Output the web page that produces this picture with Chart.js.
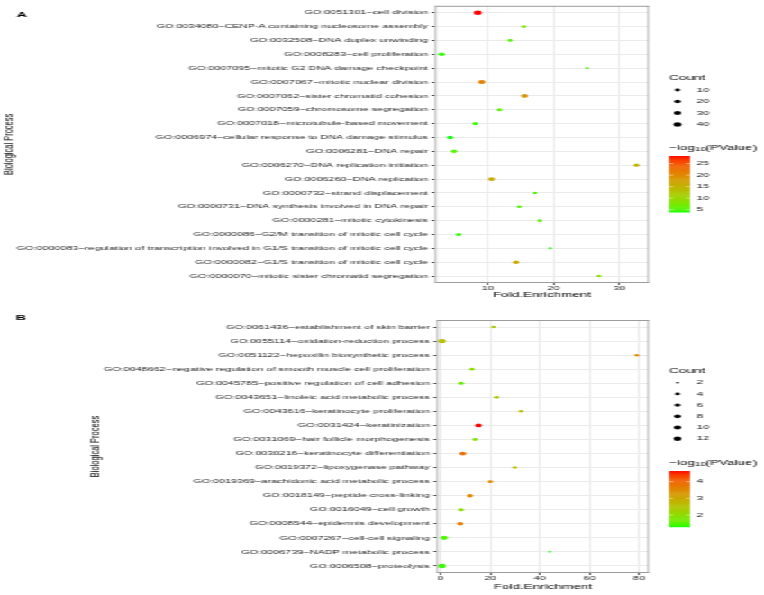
<!DOCTYPE html>
<html>
<head>
<meta charset="utf-8">
<script src="https://cdn.jsdelivr.net/npm/chart.js@4"></script>
<style>
  html, body { margin: 0; padding: 0; background: #fff; overflow: hidden; }
  /* the reference is stretched sideways, so draw narrow and stretch */
  .wrap { width: 424px; transform: scaleX(1.80189); transform-origin: 0 0; }
  canvas { display: block; }
</style>
</head>
<body>
<div class="wrap">
  <canvas id="chartA" width="424" height="300"></canvas>
  <canvas id="chartB" width="424" height="295"></canvas>
</div>
<script>
// ---- panel A data ----
const termsA = [
  "GO:0051301~cell division",
  "GO:0034080~CENP-A containing nucleosome assembly",
  "GO:0032508~DNA duplex unwinding",
  "GO:0008283~cell proliferation",
  "GO:0007095~mitotic G2 DNA damage checkpoint",
  "GO:0007067~mitotic nuclear division",
  "GO:0007062~sister chromatid cohesion",
  "GO:0007059~chromosome segregation",
  "GO:0007018~microtubule-based movement",
  "GO:0006974~cellular response to DNA damage stimulus",
  "GO:0006281~DNA repair",
  "GO:0006270~DNA replication initiation",
  "GO:0006260~DNA replication",
  "GO:0000732~strand displacement",
  "GO:0000731~DNA synthesis involved in DNA repair",
  "GO:0000281~mitotic cytokinesis",
  "GO:0000086~G2/M transition of mitotic cell cycle",
  "GO:0000083~regulation of transcription involved in G1/S transition of mitotic cell cycle",
  "GO:0000082~G1/S transition of mitotic cell cycle",
  "GO:0000070~mitotic sister chromatid segregation"
];
const foldA  = [8.5, 15.5, 13.4, 3.0, 25.1, 9.1, 15.6, 11.8, 8.1, 4.3, 4.9, 32.6, 10.6, 17.2, 14.8, 17.9, 5.6, 19.5, 14.3, 26.9];
const countA = [42, 8, 8, 18, 5, 30, 22, 11, 11, 15, 16, 12, 22, 6, 7, 7, 11, 5, 18, 7];
const logpA  = [28.3, 7.5, 5.5, 4.5, 4.8, 21, 19.5, 6, 4.8, 4.0, 5.5, 15, 16, 5.5, 5.5, 6, 4.5, 4.2, 16.5, 9];
const xTicksA = [10, 20, 30];
const countTicksA = [10, 20, 30, 40];
const colorTicksA = [5, 10, 15, 20, 25];

// ---- panel B data ----
const termsB = [
  "GO:0061436~establishment of skin barrier",
  "GO:0055114~oxidation-reduction process",
  "GO:0051122~hepoxilin biosynthetic process",
  "GO:0048662~negative regulation of smooth muscle cell proliferation",
  "GO:0045785~positive regulation of cell adhesion",
  "GO:0043651~linoleic acid metabolic process",
  "GO:0043616~keratinocyte proliferation",
  "GO:0031424~keratinization",
  "GO:0031069~hair follicle morphogenesis",
  "GO:0030216~keratinocyte differentiation",
  "GO:0019372~lipoxygenase pathway",
  "GO:0019369~arachidonic acid metabolic process",
  "GO:0018149~peptide cross-linking",
  "GO:0016049~cell growth",
  "GO:0008544~epidermis development",
  "GO:0007267~cell-cell signaling",
  "GO:0006739~NADP metabolic process",
  "GO:0006508~proteolysis"
];
const foldB  = [21.3, 0.6, 79.1, 12.7, 8.3, 22.6, 32.4, 15.3, 13.9, 9.0, 29.9, 20.1, 11.9, 8.3, 7.9, 1.5, 44.0, 0.6];
const countB = [3, 12, 3, 4, 5, 4, 3, 8, 4, 8, 3, 4, 6, 5, 7, 10, 2, 12];
const logpB  = [2.4, 2.6, 3.5, 2.0, 1.6, 2.4, 2.6, 4.64, 1.9, 3.9, 2.6, 3.5, 3.6, 2.0, 3.7, 1.5, 1.3, 1.4];
const xTicksB = [0, 20, 40, 60, 80];
const countTicksB = [2, 4, 6, 8, 10, 12];
const colorTicksB = [2, 3, 4];

const FONT = "'Liberation Sans', Arial, sans-serif";
Chart.defaults.font.family = FONT;

// ggplot-like green -> red gradient, interpolated in Lab
function srgbToLin(c) { c /= 255; return c <= 0.04045 ? c / 12.92 : Math.pow((c + 0.055) / 1.055, 2.4); }
function linToSrgb(c) {
  const v = c <= 0.0031308 ? 12.92 * c : 1.055 * Math.pow(c, 1 / 2.4) - 0.055;
  return Math.round(Math.max(0, Math.min(1, v)) * 255);
}
function rgbToLab(rgb) {
  const [r, g, b] = rgb.map(srgbToLin);
  const X = (0.4124 * r + 0.3576 * g + 0.1805 * b) / 0.95047;
  const Y = 0.2126 * r + 0.7152 * g + 0.0722 * b;
  const Z = (0.0193 * r + 0.1192 * g + 0.9505 * b) / 1.08883;
  const f = t => t > 0.008856 ? Math.cbrt(t) : 7.787 * t + 16 / 116;
  const fx = f(X), fy = f(Y), fz = f(Z);
  return [116 * fy - 16, 500 * (fx - fy), 200 * (fy - fz)];
}
function labToRgb([L, a, b]) {
  const fy = (L + 16) / 116, fx = fy + a / 500, fz = fy - b / 200;
  const inv = t => t * t * t > 0.008856 ? t * t * t : (t - 16 / 116) / 7.787;
  const X = inv(fx) * 0.95047, Y = inv(fy), Z = inv(fz) * 1.08883;
  const r = 3.2406 * X - 1.5372 * Y - 0.4986 * Z;
  const g = -0.9689 * X + 1.8758 * Y + 0.0415 * Z;
  const bb = 0.0557 * X - 0.2040 * Y + 1.0570 * Z;
  return [linToSrgb(r), linToSrgb(g), linToSrgb(bb)];
}
const LOW = rgbToLab([0, 255, 0]);
const HIGH = rgbToLab([255, 0, 0]);
function gradient(t) {
  t = Math.max(0, Math.min(1, t));
  const c = labToRgb(LOW.map((v, i) => v + (HIGH[i] - v) * t));
  return `rgb(${c[0]},${c[1]},${c[2]})`;
}

function sizeScale(counts, rMin, rMax) {
  const lo = Math.min(...counts), hi = Math.max(...counts);
  return c => rMin + (rMax - rMin) * Math.sqrt(Math.max(0, (c - lo) / (hi - lo)));
}

// border box, panel tag and the two legends
function panelExtras(cfg, radius, colorOf, lo, hi) {
  return {
    id: 'extras' + cfg.tag,
    afterDraw(chart) {
      const ctx = chart.ctx;
      const a = chart.chartArea;
      ctx.save();
      ctx.strokeStyle = '#9c9c9c';
      ctx.lineWidth = 1;
      ctx.beginPath();
      ctx.moveTo(a.left, a.top + 0.5); ctx.lineTo(a.right, a.top + 0.5);
      ctx.moveTo(a.left, a.bottom - 0.5); ctx.lineTo(a.right, a.bottom - 0.5);
      ctx.stroke();
      ctx.lineWidth = 0.7;
      ctx.beginPath();
      ctx.moveTo(a.left + 0.35, a.top); ctx.lineTo(a.left + 0.35, a.bottom);
      ctx.moveTo(a.right - 0.35, a.top); ctx.lineTo(a.right - 0.35, a.bottom);
      ctx.stroke();

      // panel tag
      ctx.fillStyle = '#000';
      ctx.textAlign = 'center';
      ctx.textBaseline = 'middle';
      ctx.font = `bold 8px ${FONT}`;
      ctx.fillText(cfg.tag, cfg.tagX, cfg.tagY);

      // size legend
      const lx = 371.3;
      ctx.textAlign = 'left';
      ctx.font = `7.5px ${FONT}`;
      ctx.fillText('Count', lx, cfg.countTitleY);
      ctx.font = `6px ${FONT}`;
      cfg.countTicks.forEach((c, i) => {
        const y = cfg.countY0 + i * cfg.countStep;
        ctx.fillStyle = '#000';
        ctx.beginPath();
        ctx.arc(376, y, radius(c), 0, Math.PI * 2);
        ctx.fill();
        ctx.fillStyle = '#111';
        ctx.fillText(String(c), 386.8, y);
      });

      // colour bar title: -log10(PValue)
      ctx.fillStyle = '#000';
      let x = lx;
      ctx.font = `7.5px ${FONT}`;
      ctx.fillText('\u2212log', x, cfg.barTitleY);
      x += ctx.measureText('\u2212log').width;
      ctx.font = `5.3px ${FONT}`;
      ctx.fillText('10', x, cfg.barTitleY + 1.6);
      x += ctx.measureText('10').width;
      ctx.font = `7.5px ${FONT}`;
      ctx.fillText('(PValue)', x, cfg.barTitleY);

      // colour bar
      const bx = 371.3, bw = 11.6, top = cfg.barTop, bot = cfg.barBottom;
      const n = 60;
      for (let k = 0; k < n; k++) {
        const y0 = bot - (k + 1) * (bot - top) / n;
        ctx.fillStyle = gradient((k + 0.5) / n);
        ctx.fillRect(bx, y0, bw, (bot - top) / n + 0.5);
      }
      ctx.font = `6px ${FONT}`;
      cfg.colorTicks.forEach(v => {
        const y = bot - (v - lo) / (hi - lo) * (bot - top);
        ctx.strokeStyle = 'rgba(255,255,255,0.8)';
        ctx.lineWidth = 0.6;
        ctx.beginPath();
        ctx.moveTo(bx, y); ctx.lineTo(bx + 2.3, y);
        ctx.moveTo(bx + bw - 2.3, y); ctx.lineTo(bx + bw, y);
        ctx.stroke();
        ctx.fillStyle = '#111';
        ctx.fillText(String(v), 386.8, y);
      });
      ctx.restore();
    }
  };
}

function buildChart(id, cfg) {
  const radius = sizeScale(cfg.counts, cfg.rMin, cfg.rMax);
  const lo = Math.min(...cfg.logp), hi = Math.max(...cfg.logp);
  const colorOf = v => gradient((v - lo) / (hi - lo));
  const points = cfg.terms.map((t, i) => ({ x: cfg.fold[i], y: t }));

  return new Chart(document.getElementById(id), {
    type: 'scatter',
    data: {
      datasets: [{
        data: points,
        pointRadius: ctx => radius(cfg.counts[ctx.dataIndex]),
        pointHoverRadius: ctx => radius(cfg.counts[ctx.dataIndex]),
        pointBackgroundColor: ctx => colorOf(cfg.logp[ctx.dataIndex]),
        pointBorderWidth: 0,
        borderWidth: 0
      }]
    },
    options: {
      responsive: false,
      devicePixelRatio: 1,
      animation: false,
      events: [],
      layout: { padding: { left: cfg.padL, top: cfg.padT, right: 63.8, bottom: cfg.padB } },
      plugins: { legend: { display: false }, tooltip: { enabled: false } },
      scales: {
        x: {
          type: 'linear',
          min: cfg.xMin,
          max: cfg.xMax,
          afterBuildTicks: s => { s.ticks = cfg.xTicks.map(v => ({ value: v })); },
          afterFit: s => { s.height = cfg.xAxisH; },
          ticks: { font: { size: 6 }, color: '#222', padding: 0, maxRotation: 0 },
          grid: { color: '#e6e6e6', lineWidth: 0.8, tickColor: '#333', tickLength: 2 },
          border: { display: false },
          title: { display: true, text: 'Fold.Enrichment', font: { size: 7.5 }, color: '#000', padding: { top: 0, bottom: cfg.xTitlePad } }
        },
        y: {
          type: 'category',
          labels: cfg.terms,
          offset: true,
          afterFit: s => { s.width = cfg.yAxisW; },
          ticks: { autoSkip: false, font: { size: 6 }, color: '#222', padding: 2.2 },
          grid: { color: '#ebebeb', lineWidth: 1, tickColor: '#333', tickLength: 1.7 },
          border: { display: false },
          title: { display: true, text: 'Biological Process', font: { size: 7.5 }, color: '#000', padding: { top: 0, bottom: 0 } }
        }
      }
    },
    plugins: [panelExtras(cfg, radius, colorOf, lo, hi)]
  });
}

buildChart('chartA', {
  tag: 'A', tagX: 12.2, tagY: 15,
  terms: termsA, fold: foldA, counts: countA, logp: logpA,
  xTicks: xTicksA, countTicks: countTicksA, colorTicks: colorTicksA,
  xMin: 2.0, xMax: 34.5, rMin: 1.0, rMax: 2.3,
  padL: 0, padT: 5, padB: 0, yAxisW: 241.4, xAxisH: 17, xTitlePad: 0.5,
  countTitleY: 78, countY0: 90, countStep: 11.5,
  barTitleY: 148, barTop: 156, barBottom: 212
});

buildChart('chartB', {
  tag: 'B', tagX: 11.6, tagY: 18,
  terms: termsB, fold: foldB, counts: countB, logp: logpB,
  xTicks: xTicksB, countTicks: countTicksB, colorTicks: colorTicksB,
  xMin: -1.5, xMax: 84, rMin: 0.8, rMax: 2.2,
  padL: 48, padT: 20, padB: 2, yAxisW: 194.4, xAxisH: 20, xTitlePad: 1.5,
  countTitleY: 70.7, countY0: 82.7, countStep: 11.2,
  barTitleY: 163, barTop: 171, barBottom: 226.7
});
</script>
</body>
</html>
